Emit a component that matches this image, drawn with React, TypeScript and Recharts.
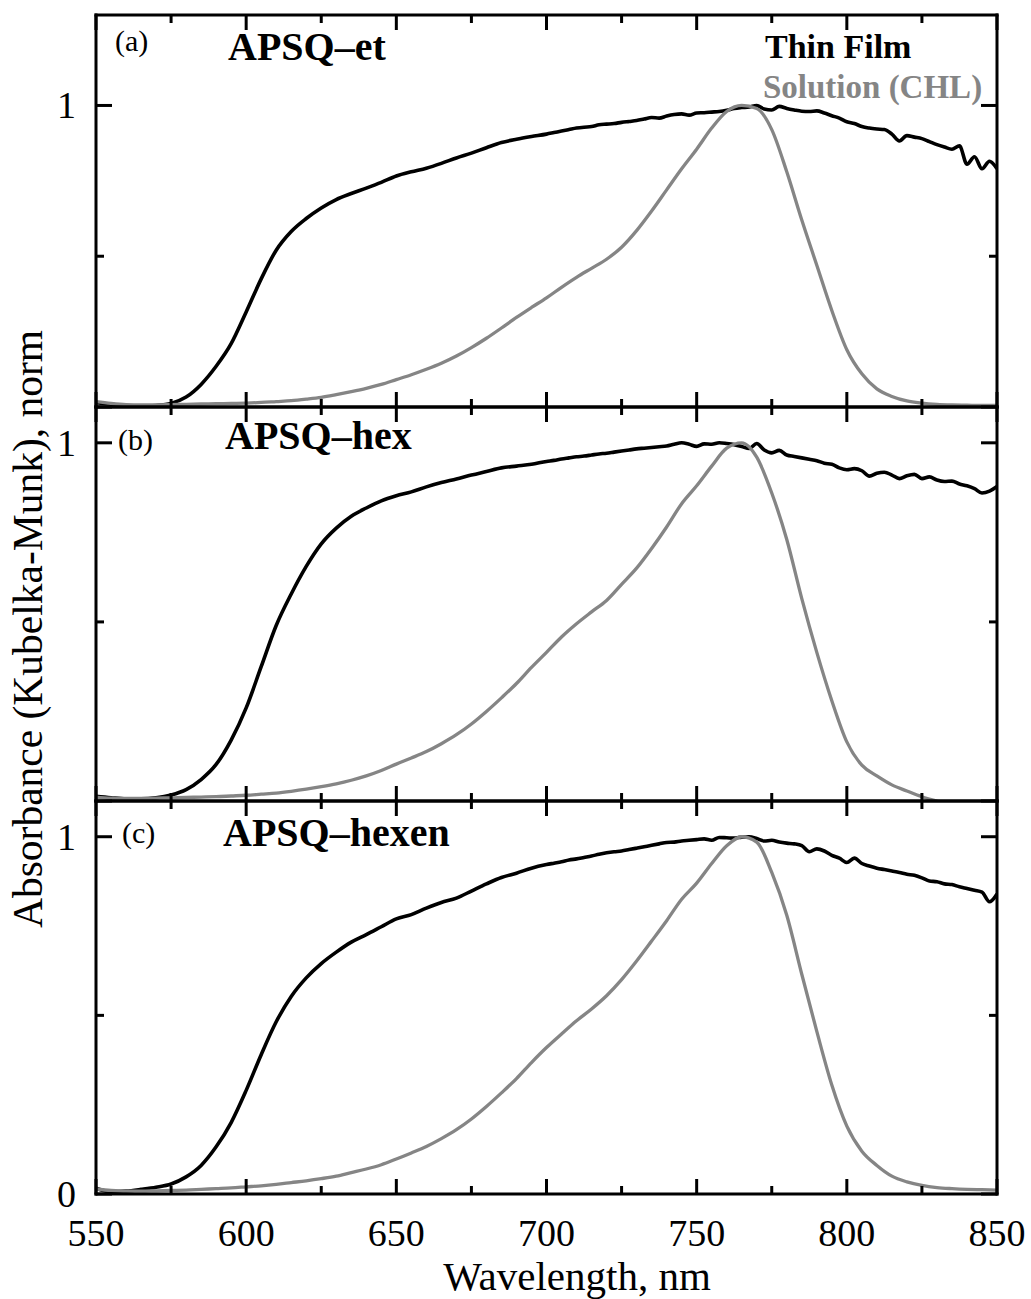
import { LineChart, Line, XAxis, YAxis } from 'recharts'

// wavelength grids (nm)
const wlSol = [
  550, 555, 560, 565, 570, 575, 580, 585, 590, 595,
  600, 605, 610, 615, 620, 625, 630, 635, 640, 645,
  650, 655, 660, 665, 670, 675, 680, 685, 690, 695,
  700, 705, 710, 715, 720, 725, 730, 735, 740, 745,
  750, 755, 760, 765, 770, 775, 780, 785, 790, 795,
  800, 805, 810, 815, 820, 825, 830, 835, 840, 845,
  850,
]
const wlFilm = [
  550, 555, 560, 565, 570, 575, 580, 585, 590, 595,
  600, 605, 610, 615, 620, 625, 630, 635, 640, 645,
  650, 655, 660, 665, 670, 675, 680, 685, 690, 695,
  700,
  702.5, 705, 707.5, 710, 712.5, 715, 717.5, 720, 722.5, 725,
  727.5, 730, 732.5, 735, 737.5, 740, 742.5, 745, 747.5, 750,
  752.5, 755, 757.5, 760, 762.5, 765, 767.5, 770, 772.5, 775,
  777.5, 780, 782.5, 785, 787.5, 790, 792.5, 795, 797.5, 800,
  802.5, 805, 807.5, 810, 812.5, 815, 817.5, 820, 822.5, 825,
  827.5, 830, 832.5, 835, 837.5, 840, 842.5, 845, 847.5, 850,
]

// (a) APSQ-et
const filmA = [
  0.014, 0.009, 0.005, 0.003, 0.005, 0.012, 0.033, 0.075, 0.135, 0.21,
  0.315, 0.425, 0.52, 0.582, 0.625, 0.66, 0.688, 0.708, 0.726, 0.745,
  0.766, 0.78, 0.792, 0.808, 0.826, 0.842, 0.86, 0.877, 0.888, 0.897,
  0.905,
  0.91, 0.915, 0.92, 0.925, 0.928, 0.93, 0.936, 0.938, 0.94, 0.944,
  0.947, 0.95, 0.955, 0.96, 0.958, 0.965, 0.97, 0.972, 0.968, 0.975,
  0.976, 0.978, 0.98, 0.984, 0.99, 0.993, 0.995, 1.0, 0.988, 0.985,
  0.997, 0.99, 0.985, 0.981, 0.98, 0.982, 0.975, 0.966, 0.958, 0.946,
  0.94, 0.93, 0.925, 0.922, 0.92, 0.905, 0.882, 0.9, 0.895, 0.89,
  0.88, 0.87, 0.862, 0.855, 0.866, 0.805, 0.83, 0.79, 0.815, 0.79,
]
const solA = [
  0.018, 0.012, 0.008, 0.007, 0.007, 0.008, 0.009, 0.01, 0.011, 0.012,
  0.013, 0.015, 0.018, 0.021, 0.026, 0.032, 0.041, 0.051, 0.062, 0.075,
  0.091, 0.107, 0.125, 0.145, 0.169, 0.197, 0.228, 0.262, 0.297, 0.33,
  0.362, 0.397, 0.43, 0.46, 0.49, 0.53, 0.585, 0.65, 0.72, 0.79,
  0.855, 0.925, 0.98, 1.0, 0.99, 0.92, 0.78, 0.62, 0.47, 0.32,
  0.19, 0.11, 0.06, 0.035, 0.02, 0.013, 0.009, 0.007, 0.006, 0.005,
  0.005,
]

// (b) APSQ-hex
const filmB = [
  0.013, 0.009, 0.006, 0.006, 0.009, 0.017, 0.032, 0.06, 0.102, 0.17,
  0.26, 0.375, 0.49, 0.578, 0.655, 0.718, 0.762, 0.795, 0.818, 0.838,
  0.852, 0.863, 0.877, 0.889, 0.899, 0.91, 0.92, 0.93, 0.935, 0.94,
  0.948,
  0.951, 0.955, 0.958, 0.961, 0.963, 0.966, 0.969, 0.971, 0.974, 0.977,
  0.98, 0.983, 0.985, 0.987, 0.989, 0.991, 0.996, 1.0, 0.996, 0.99,
  0.997, 0.996, 1.0, 0.998, 0.995, 0.99, 0.984, 0.998, 0.98, 0.972,
  0.979, 0.966, 0.962, 0.958, 0.954, 0.95, 0.943, 0.94, 0.93, 0.925,
  0.928, 0.922, 0.907, 0.915, 0.918, 0.91, 0.9, 0.908, 0.912, 0.9,
  0.905, 0.896, 0.892, 0.893, 0.885, 0.88, 0.872, 0.86, 0.865, 0.878,
]
const solB = [
  0.011, 0.008, 0.007, 0.007, 0.008, 0.009, 0.01, 0.011, 0.012, 0.014,
  0.016, 0.019, 0.022, 0.027, 0.033, 0.04, 0.048, 0.058, 0.07, 0.085,
  0.103, 0.12, 0.138, 0.16, 0.185, 0.215, 0.25, 0.288, 0.328, 0.373,
  0.415, 0.458, 0.495, 0.528, 0.56, 0.605, 0.65, 0.705, 0.765, 0.83,
  0.88, 0.935, 0.985, 1.0, 0.96, 0.86, 0.73, 0.565, 0.415, 0.28,
  0.165, 0.1, 0.07, 0.045, 0.028, 0.012, 0.0, -0.01, -0.015, -0.02,
  -0.02,
]

// (c) APSQ-hexen
const filmC = [
  0.016, 0.006, 0.008, 0.013, 0.019, 0.028, 0.048, 0.08, 0.132, 0.2,
  0.29, 0.39, 0.482, 0.553, 0.605, 0.645, 0.677, 0.705, 0.726, 0.748,
  0.77, 0.782, 0.8, 0.816, 0.828, 0.848, 0.868, 0.886, 0.898, 0.912,
  0.922,
  0.926, 0.93, 0.935, 0.938, 0.942, 0.946, 0.951, 0.955, 0.958, 0.96,
  0.964, 0.968, 0.972, 0.976, 0.98, 0.984, 0.985, 0.988, 0.99, 0.992,
  0.994, 0.99, 0.998, 0.997, 0.996, 0.999, 1.0, 0.995, 0.988, 0.99,
  0.985, 0.982, 0.98, 0.975, 0.958, 0.966, 0.96, 0.948, 0.94, 0.928,
  0.94, 0.925, 0.918, 0.912, 0.908, 0.904, 0.9, 0.895, 0.892, 0.885,
  0.876, 0.874, 0.868, 0.866, 0.86, 0.855, 0.85, 0.845, 0.818, 0.84,
]
const solC = [
  0.014, 0.01, 0.008, 0.008, 0.009, 0.01, 0.011, 0.013, 0.015, 0.017,
  0.02, 0.023, 0.027, 0.032, 0.037, 0.043, 0.05, 0.06, 0.07, 0.082,
  0.098, 0.115, 0.133, 0.155, 0.18, 0.21, 0.245, 0.283, 0.323, 0.368,
  0.41, 0.448, 0.485, 0.518, 0.555, 0.6, 0.652, 0.708, 0.765, 0.825,
  0.87, 0.925, 0.975, 1.0, 0.985, 0.9, 0.78, 0.615, 0.455, 0.305,
  0.19, 0.12, 0.08, 0.05, 0.034, 0.024, 0.018, 0.015, 0.013, 0.012,
  0.011,
]

const xTicks = [550, 575, 600, 625, 650, 675, 700, 725, 750, 775, 800, 825, 850]
const yTicks = [0, 0.5, 1]

const FONT = "'Liberation Serif', 'Times New Roman', serif"
const GRAY = '#858585'
const W = 1031

const zip = (xs: number[], ys: number[]) =>
  xs.map((x, i) => ({ x, y: ys[i] })).filter(d => d.y !== undefined)

// mt/mb are the margins outside the 1px axis bands; plot spans are a 15-407, b 407-801, c 801-1194
const panels = [
  { id: 'a', film: filmA, sol: solA, yMax: 1.3, top: 0, h: 420, mt: 14, mb: 12, last: false },
  { id: 'b', film: filmB, sol: solB, yMax: 1.1, top: 395, h: 420, mt: 11, mb: 13, last: false },
  { id: 'c', film: filmC, sol: solC, yMax: 1.1, top: 790, h: 509, mt: 10, mb: 104, last: true },
]

const xTick = (side: 'top' | 'bottom', withLabel: boolean) => (props: any) => {
  const { x, y, payload } = props
  const v = payload.value
  const major = v % 50 === 0
  const len = major ? 15 : 8
  const dir = side === 'bottom' ? -1 : 1
  return (
    <g>
      <line x1={x} x2={x} y1={y} y2={y + dir * len} stroke="#000" strokeWidth={3} />
      {withLabel && major && (
        <text x={x} y={y + 52} textAnchor="middle" fontSize={38} fontFamily={FONT} fill="#000">
          {v}
        </text>
      )}
    </g>
  )
}

const yTick = (side: 'left' | 'right', showZero: boolean) => (props: any) => {
  const { x, y, payload } = props
  const v = payload.value
  const major = v === 0 || v === 1
  const len = major ? 16 : 8
  const dir = side === 'left' ? 1 : -1
  const label = side === 'left' && (v === 1 || (v === 0 && showZero))
  return (
    <g>
      <line x1={x} x2={x + dir * len} y1={y} y2={y} stroke="#000" strokeWidth={3} />
      {label && (
        <text x={x - 20} y={y + 13} textAnchor="end" fontSize={38} fontFamily={FONT} fill="#000">
          {v}
        </text>
      )}
    </g>
  )
}

const axisLine = { stroke: '#000', strokeWidth: 3, strokeLinecap: 'square' as const }

function Panel({ p }: { p: (typeof panels)[number] }) {
  return (
    <div style={{ position: 'absolute', left: 0, top: p.top }}>
      <LineChart width={W} height={p.h} margin={{ top: p.mt, right: 33, bottom: p.mb, left: 95 }}>
        <XAxis
          xAxisId="b" type="number" dataKey="x" domain={[550, 850]} ticks={xTicks} interval={0}
          allowDataOverflow height={1} tickSize={0} tickMargin={0}
          axisLine={axisLine} tickLine={false} tick={xTick('bottom', p.last)}
        />
        <XAxis
          xAxisId="t" orientation="top" type="number" dataKey="x" domain={[550, 850]} ticks={xTicks}
          interval={0} allowDataOverflow height={1} tickSize={0} tickMargin={0}
          axisLine={axisLine} tickLine={false} tick={xTick('top', false)}
        />
        <YAxis
          yAxisId="l" type="number" domain={[0, p.yMax]} ticks={yTicks} interval={0}
          allowDataOverflow width={1} tickSize={0} tickMargin={0}
          axisLine={axisLine} tickLine={false} tick={yTick('left', p.last)}
        />
        <YAxis
          yAxisId="r" orientation="right" type="number" domain={[0, p.yMax]} ticks={yTicks} interval={0}
          allowDataOverflow width={1} tickSize={0} tickMargin={0}
          axisLine={axisLine} tickLine={false} tick={yTick('right', false)}
        />
        <Line
          xAxisId="b" yAxisId="l" data={zip(wlFilm, p.film)} dataKey="y" type="monotone"
          stroke="#000" strokeWidth={3.6} dot={false} activeDot={false} isAnimationActive={false}
        />
        <Line
          xAxisId="t" yAxisId="r" data={zip(wlSol, p.sol)} dataKey="y" type="monotone"
          stroke={GRAY} strokeWidth={3.3} dot={false} activeDot={false} isAnimationActive={false}
        />
      </LineChart>
    </div>
  )
}

export default function App() {
  return (
    <div style={{ position: 'absolute', left: 0, top: 0, width: W, height: 1299, background: '#fff', overflow: 'hidden' }}>
      {panels.map(p => <Panel key={p.id} p={p} />)}
      <svg width={W} height={1299} style={{ position: 'absolute', left: 0, top: 0, pointerEvents: 'none' }} fontFamily={FONT}>
        <text transform="translate(42,629) rotate(-90)" textAnchor="middle" fontSize={41.5}>
          Absorbance (Kubelka-Munk), norm
        </text>
        <text x={577} y={1290} textAnchor="middle" fontSize={41}>Wavelength, nm</text>

        <text x={115} y={51} fontSize={30}>(a)</text>
        <text x={228} y={60} fontSize={40} fontWeight="bold">APSQ–et</text>
        <text x={118} y={450} fontSize={30}>(b)</text>
        <text x={225} y={449} fontSize={40} fontWeight="bold">APSQ–hex</text>
        <text x={122} y={843} fontSize={30}>(c)</text>
        <text x={223} y={846} fontSize={40} fontWeight="bold">APSQ–hexen</text>

        <text x={765} y={58} fontSize={34} fontWeight="bold" fill="#000">Thin Film</text>
        <text x={763} y={98} fontSize={33} fontWeight="bold" fill={GRAY}>Solution (CHL)</text>
      </svg>
    </div>
  )
}
